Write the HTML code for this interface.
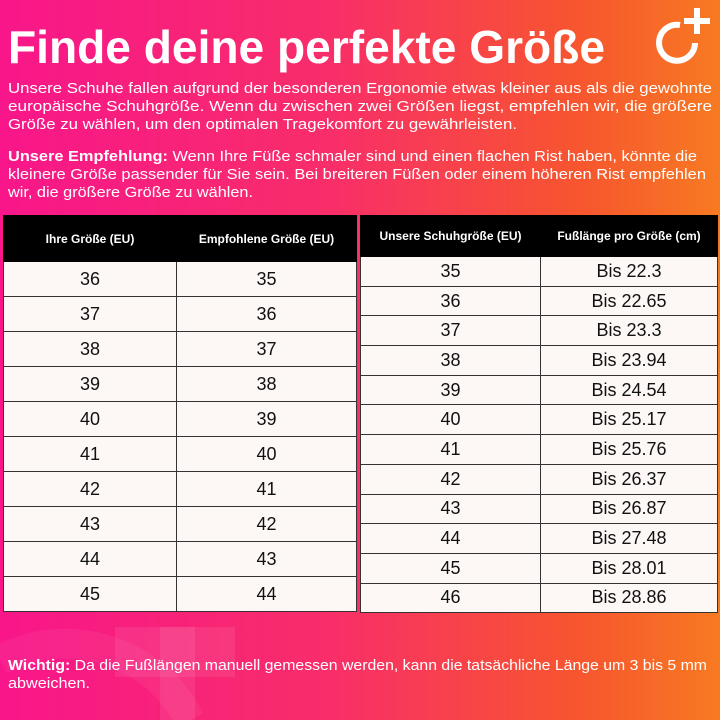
<!DOCTYPE html>
<html style="overflow:hidden"><head><meta charset="utf-8"><style>
*{margin:0;padding:0;box-sizing:border-box}
html,body{width:720px;height:720px;overflow:hidden}
body{position:relative;font-family:"Liberation Sans",sans-serif;background:linear-gradient(90deg,#f8168a 0%,#f82d6a 45%,#f7552f 80%,#f77a22 100%)}
table{position:absolute;border-collapse:collapse;background:#fdf8f5;table-layout:fixed}
td,th{border:1.5px solid #333;text-align:center;color:#111}
th{background:#000;color:#fff;font-size:12px;font-weight:bold;border-color:#000}
td{font-size:18px}
svg{position:absolute;left:0;top:0;overflow:hidden}
</style></head><body>
<svg width="720" height="720" style="z-index:0">
<rect x="160" y="627" width="35" height="93" fill="#fff" opacity="0.08"/>
<rect x="115" y="627" width="120" height="50" fill="#fff" opacity="0.08"/>
<path d="M0 660 A140 140 0 0 1 190 720" fill="none" stroke="#fff" stroke-width="30" opacity="0.05"/>
</svg>
<table style="left:3px;top:215px;width:354px">
<tr style="height:46px"><th style="width:173px">Ihre Größe (EU)</th><th>Empfohlene Größe (EU)</th></tr>
<tr style="height:35px"><td>36</td><td>35</td></tr>
<tr style="height:35px"><td>37</td><td>36</td></tr>
<tr style="height:35px"><td>38</td><td>37</td></tr>
<tr style="height:35px"><td>39</td><td>38</td></tr>
<tr style="height:35px"><td>40</td><td>39</td></tr>
<tr style="height:35px"><td>41</td><td>40</td></tr>
<tr style="height:35px"><td>42</td><td>41</td></tr>
<tr style="height:35px"><td>43</td><td>42</td></tr>
<tr style="height:35px"><td>44</td><td>43</td></tr>
<tr style="height:35px"><td>45</td><td>44</td></tr>
</table>
<table style="left:360px;top:215px;width:358px">
<tr style="height:41px"><th style="width:180px">Unsere Schuhgröße (EU)</th><th>Fußlänge pro Größe (cm)</th></tr>
<tr style="height:29.7px"><td>35</td><td>Bis 22.3</td></tr>
<tr style="height:29.7px"><td>36</td><td>Bis 22.65</td></tr>
<tr style="height:29.7px"><td>37</td><td>Bis 23.3</td></tr>
<tr style="height:29.7px"><td>38</td><td>Bis 23.94</td></tr>
<tr style="height:29.7px"><td>39</td><td>Bis 24.54</td></tr>
<tr style="height:29.7px"><td>40</td><td>Bis 25.17</td></tr>
<tr style="height:29.7px"><td>41</td><td>Bis 25.76</td></tr>
<tr style="height:29.7px"><td>42</td><td>Bis 26.37</td></tr>
<tr style="height:29.7px"><td>43</td><td>Bis 26.87</td></tr>
<tr style="height:29.7px"><td>44</td><td>Bis 27.48</td></tr>
<tr style="height:29.7px"><td>45</td><td>Bis 28.01</td></tr>
<tr style="height:29.7px"><td>46</td><td>Bis 28.86</td></tr>
</table>
<svg width="720" height="720" font-family="Liberation Sans, sans-serif" fill="#fff">
<text x="8" y="63" font-size="46" font-weight="bold" textLength="597" lengthAdjust="spacingAndGlyphs">Finde deine perfekte Größe</text>
<g font-size="15">
<text x="8" y="93" textLength="704" lengthAdjust="spacingAndGlyphs">Unsere Schuhe fallen aufgrund der besonderen Ergonomie etwas kleiner aus als die gewohnte</text>
<text x="8" y="111" textLength="704" lengthAdjust="spacingAndGlyphs">europäische Schuhgröße. Wenn du zwischen zwei Größen liegst, empfehlen wir, die größere</text>
<text x="8" y="129" textLength="509" lengthAdjust="spacingAndGlyphs">Größe zu wählen, um den optimalen Tragekomfort zu gewährleisten.</text>
<text x="8" y="161" textLength="689" lengthAdjust="spacingAndGlyphs"><tspan font-weight="bold">Unsere Empfehlung:</tspan> Wenn Ihre Füße schmaler sind und einen flachen Rist haben, könnte die</text>
<text x="8" y="179" textLength="698" lengthAdjust="spacingAndGlyphs">kleinere Größe passender für Sie sein. Bei breiteren Füßen oder einem höheren Rist empfehlen</text>
<text x="8" y="197" textLength="245" lengthAdjust="spacingAndGlyphs">wir, die größere Größe zu wählen.</text>
<text x="8" y="670" textLength="699" lengthAdjust="spacingAndGlyphs"><tspan font-weight="bold">Wichtig:</tspan> Da die Fußlängen manuell gemessen werden, kann die tatsächliche Länge um 3 bis 5 mm</text>
<text x="8" y="688" textLength="82" lengthAdjust="spacingAndGlyphs">abweichen.</text>
</g>
<path d="M680 25 A18 18 0 1 0 695 43" fill="none" stroke="#fff" stroke-width="6"/>
<rect x="694" y="8" width="6" height="26" fill="#fff"/>
<rect x="684" y="18" width="26" height="6" fill="#fff"/>
</svg>
</body></html>
